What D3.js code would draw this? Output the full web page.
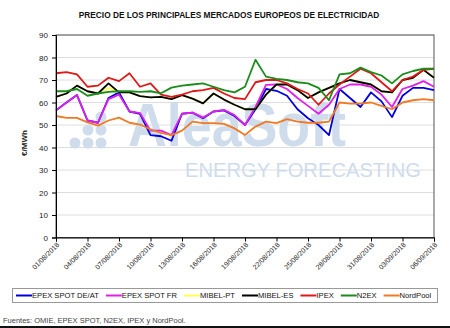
<!DOCTYPE html>
<html>
<head>
<meta charset="utf-8">
<script src="https://cdn.jsdelivr.net/npm/d3@7"></script>
<style>
    body { margin: 0; background: #fff; }
    svg { display: block; font-family: "Liberation Sans", Arial, sans-serif; }
</style>
</head>
<body>
<svg id="chart" width="450" height="328"></svg>
<script>
// Daily prices, €/MWh, 01/08/2018 - 06/09/2018
const dates = [
    '01/08/2018', '02/08/2018', '03/08/2018', '04/08/2018', '05/08/2018', '06/08/2018',
    '07/08/2018', '08/08/2018', '09/08/2018', '10/08/2018', '11/08/2018', '12/08/2018',
    '13/08/2018', '14/08/2018', '15/08/2018', '16/08/2018', '17/08/2018', '18/08/2018',
    '19/08/2018', '20/08/2018', '21/08/2018', '22/08/2018', '23/08/2018', '24/08/2018',
    '25/08/2018', '26/08/2018', '27/08/2018', '28/08/2018', '29/08/2018', '30/08/2018',
    '31/08/2018', '01/09/2018', '02/09/2018', '03/09/2018', '04/09/2018', '05/09/2018',
    '06/09/2018'
];

const epexDeAt = [56.5, 60, 63.3, 52, 51, 62, 64.5, 56, 55, 45.5, 45, 43, 55, 55.5, 53, 56, 56.5, 54, 50,
    57, 66, 65.2, 63, 57, 53, 50, 45.5, 66, 62, 58, 64.5, 60.5, 53.5, 63, 66.5, 66.5, 65.5];
const epexFr = [56.5, 60, 63.3, 52, 51, 61.5, 63.5, 56, 55.3, 47.5, 47.5, 45.5, 55, 55.5, 53.3, 56, 56.7, 54.4, 50,
    58, 67.8, 68, 66, 62, 58.5, 55, 59, 66, 68, 68, 67, 63.5, 58, 66, 67.5, 69.5, 67];
const mibelPt = [62.5, 64, 67.5, 65, 64, 66.5, 64.5, 64.5, 62.8, 62.3, 62.5, 61.5, 63.3, 61.7, 59.6, 64, 61.3, 59, 57,
    57, 63.5, 68, 68, 65.5, 62, 64.5, 66.5, 68.5, 70, 69, 68, 65, 64.5, 70, 71, 74.5, 71];
const mibelEs = [62.5, 64, 67.5, 65, 64, 68.5, 64.5, 64.5, 62.8, 62.3, 62.5, 61.5, 63.3, 61.7, 59.6, 64, 61.3, 59, 57,
    57, 63.5, 68, 68, 65.5, 62, 64.5, 66.5, 68.5, 70, 69, 68, 65, 64.5, 70, 71, 74.5, 71];
const ipex = [73, 73.5, 72.5, 67, 67.5, 71, 69.5, 73, 67, 68.5, 63.5, 62.5, 63.5, 65, 65.5, 66.5, 64, 62, 61.5,
    69, 70, 70, 68.5, 66, 64, 59, 64, 68, 71.5, 75, 73, 69, 65, 70, 71.5, 74.5, 75];
const n2ex = [65, 65, 66, 63, 64, 64.7, 65, 65, 64.7, 65, 64.1, 66.6, 67.5, 68, 68.5, 67, 65.5, 64.5, 67,
    79, 71.5, 70.5, 70, 69, 68.5, 66.5, 61, 72.5, 73, 75.5, 73.5, 72, 68.5, 72.5, 74, 75, 75];
const nordPool = [54, 53.2, 53.2, 51.2, 49.7, 52, 53.3, 51, 50.2, 48, 46.5, 45.5, 47.5, 51.5, 50.8, 50.8, 50.5, 48.5, 45.6,
    49.3, 51.5, 50.8, 52.6, 51.5, 51, 51, 51.5, 60, 59.5, 59.5, 60, 58.5, 57, 60, 61, 61.5, 61];

const seriesNames = ['EPEX SPOT DE/AT', 'EPEX SPOT FR', 'MIBEL-PT', 'MIBEL-ES', 'IPEX', 'N2EX', 'NordPool'];
const seriesValues = [epexDeAt, epexFr, mibelPt, mibelEs, ipex, n2ex, nordPool];
const seriesColors = ['#0000dd', '#e020e8', '#ffff55', '#000000', '#e01818', '#1a8c1a', '#f07a22'];

const yTicks = [0, 10, 20, 30, 40, 50, 60, 70, 80, 90];
const xTickLabels = dates.filter((d, i) => i % 3 === 0);

const svg = d3.select('#chart');
const plot = { left: 56, right: 434, top: 35, bottom: 237.5 };

const x = d3.scalePoint().domain(dates).range([plot.left, plot.right]);
const y = d3.scaleLinear().domain([0, 90]).range([plot.bottom, plot.top]);

// Title
svg.append('text')
    .attr('x', 229).attr('y', 18)
    .attr('text-anchor', 'middle')
    .attr('font-size', 8.3).attr('font-weight', 'bold')
    .attr('fill', '#111')
    .text('PRECIO DE LOS PRINCIPALES MERCADOS EUROPEOS DE ELECTRICIDAD');

// Gridlines
svg.append('g')
    .selectAll('line')
    .data(yTicks.slice(1))
    .enter()
    .append('line')
    .attr('x1', plot.left).attr('x2', plot.right)
    .attr('y1', d => y(d)).attr('y2', d => y(d))
    .attr('stroke', '#dedede').attr('stroke-width', 1);

// Watermark
const wm = svg.append('g').attr('fill', '#cfdcec');
const dots = [[101, 117], [88, 130], [101, 130], [75, 143], [88, 143], [101, 143]];
wm.selectAll('circle')
    .data(dots)
    .enter()
    .append('circle')
    .attr('cx', d => d[0]).attr('cy', d => d[1]).attr('r', 5.5);
wm.append('text')
    .attr('x', 128).attr('y', 146)
    .attr('font-size', 62).attr('font-weight', 'bold')
    .attr('textLength', 218).attr('lengthAdjust', 'spacingAndGlyphs')
    .text('AleaSoft');
wm.append('text')
    .attr('x', 185).attr('y', 177)
    .attr('font-size', 21)
    .attr('textLength', 236).attr('lengthAdjust', 'spacingAndGlyphs')
    .text('ENERGY FORECASTING');

// Plot frame
svg.append('rect')
    .attr('x', plot.left).attr('y', plot.top)
    .attr('width', plot.right - plot.left).attr('height', plot.bottom - plot.top)
    .attr('fill', 'none').attr('stroke', '#555').attr('stroke-width', 1);

// Series lines
const line = d3.line()
    .x((d, i) => x(dates[i]))
    .y(d => y(d));

svg.append('g')
    .selectAll('path')
    .data(seriesValues)
    .enter()
    .append('path')
    .attr('d', d => line(d))
    .attr('fill', 'none')
    .attr('stroke', (d, i) => seriesColors[i])
    .attr('stroke-width', 1.8)
    .attr('stroke-linejoin', 'round');

// Y axis
const yAxis = svg.append('g')
    .attr('transform', `translate(${plot.left},0)`)
    .call(d3.axisLeft(y).tickValues(yTicks).tickSize(4).tickPadding(4));
yAxis.select('.domain').attr('stroke', '#000');
yAxis.selectAll('.tick line').attr('stroke', '#000');
yAxis.selectAll('.tick text')
    .attr('font-size', 8).attr('fill', '#222')
    .attr('font-family', '"Liberation Sans", Arial, sans-serif');

// X axis
const xAxis = svg.append('g')
    .attr('transform', `translate(0,${plot.bottom})`)
    .call(d3.axisBottom(x).tickValues(xTickLabels).tickSize(4).tickFormat(''));
xAxis.select('.domain').attr('stroke', '#000');
xAxis.selectAll('.tick line').attr('stroke', '#000');

svg.append('g')
    .selectAll('text')
    .data(xTickLabels)
    .enter()
    .append('text')
    .attr('transform', d => `translate(${x(d) + 2},${plot.bottom + 6}) rotate(-45)`)
    .attr('text-anchor', 'end')
    .attr('dy', '0.35em')
    .attr('font-size', 7).attr('fill', '#222')
    .text(d => d);

// Y label
svg.append('text')
    .attr('transform', 'translate(27,143) rotate(-90)')
    .attr('text-anchor', 'middle')
    .attr('font-size', 8).attr('font-weight', 'bold')
    .attr('fill', '#222')
    .text('€/MWh');

// Legend
const legend = svg.append('g');
legend.append('rect')
    .attr('x', 12.5).attr('y', 288.5)
    .attr('width', 425).attr('height', 14)
    .attr('fill', '#fff').attr('stroke', '#999');

let lx = 16;
seriesNames.forEach((name, i) => {
    legend.append('line')
        .attr('x1', lx).attr('x2', lx + 16)
        .attr('y1', 295.5).attr('y2', 295.5)
        .attr('stroke', seriesColors[i]).attr('stroke-width', 2);
    const t = legend.append('text')
        .attr('x', lx + 16).attr('y', 298.2)
        .attr('font-size', 7.6).attr('fill', '#111')
        .text(name);
    lx += 16 + t.node().getComputedTextLength() + 7;
});

// Source note
svg.append('text')
    .attr('x', 3).attr('y', 323)
    .attr('font-size', 7.5).attr('fill', '#444')
    .text('Fuentes: OMIE, EPEX SPOT, N2EX, IPEX y NordPool.');

svg.append('rect')
    .attr('x', 0).attr('y', 326)
    .attr('width', 450).attr('height', 2)
    .attr('fill', '#111');
</script>
</body>
</html>
